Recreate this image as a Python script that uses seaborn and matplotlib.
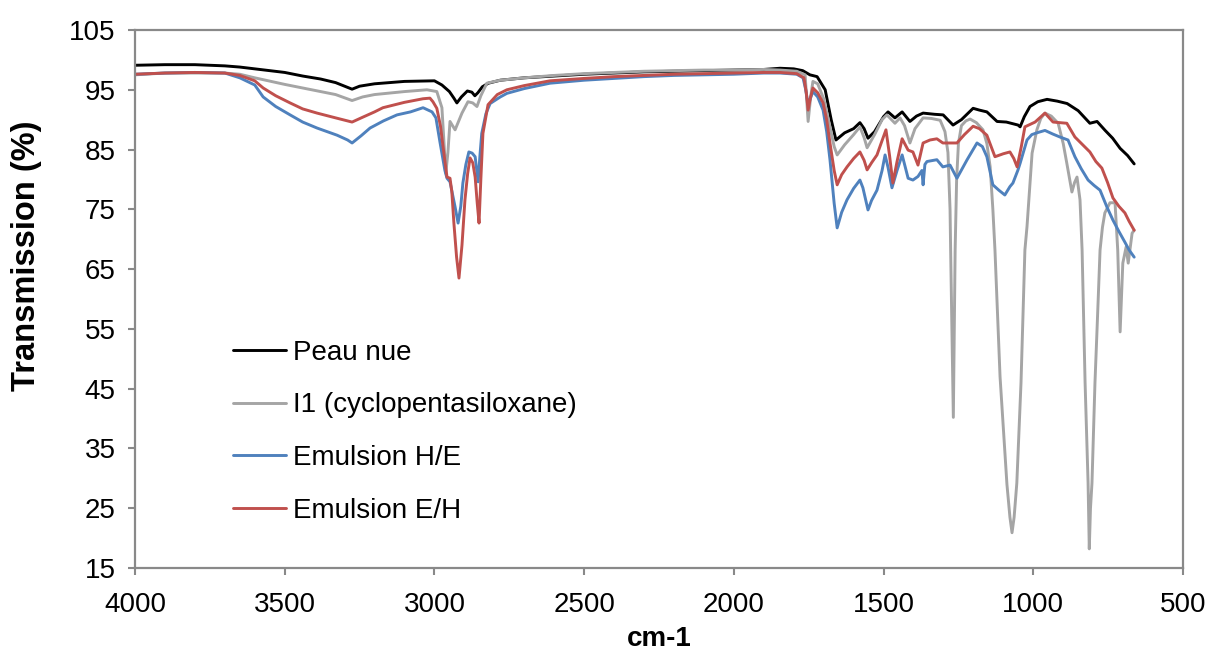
import pandas as pd
import matplotlib
matplotlib.use("Agg")
import matplotlib.pyplot as plt
import seaborn as sns

# spectra (cm-1, transmission %)
peau_x = [4000, 3900, 3800, 3700, 3650, 3600, 3500, 3440, 3380, 3330, 3275, 3250, 3200, 3100, 3000,
          2975, 2950, 2935, 2925, 2910, 2890, 2875, 2865, 2855, 2840, 2820, 2780, 2700, 2600, 2500,
          2400, 2300, 2200, 2100, 2000, 1900, 1846, 1800, 1770, 1746, 1722, 1695, 1675, 1659, 1630,
          1600, 1579, 1565, 1552, 1530, 1500, 1485, 1462, 1438, 1412, 1390, 1368, 1330, 1301, 1268,
          1240, 1201, 1180, 1155, 1121, 1090, 1051, 1044, 1030, 1011, 985, 954, 920, 887, 850, 811,
          787, 760, 735, 710, 685, 663]
peau_y = [99.1, 99.2, 99.2, 99.0, 98.8, 98.5, 97.9, 97.3, 96.8, 96.2, 95.1, 95.6, 96.0, 96.4, 96.5,
          95.8, 94.7, 93.6, 92.8, 93.8, 94.8, 94.6, 94.0, 94.5, 95.5, 96.1, 96.6, 97.0, 97.3, 97.6,
          97.8, 98.0, 98.1, 98.2, 98.3, 98.4, 98.6, 98.5, 98.2, 97.5, 97.2, 95.0, 90.0, 86.6, 87.8,
          88.5, 89.5, 88.5, 86.9, 88.0, 90.5, 91.3, 90.3, 91.3, 89.7, 90.6, 91.1, 90.9, 90.8, 89.1,
          90.0, 91.9, 91.6, 91.3, 89.7, 89.6, 89.1, 88.8, 90.5, 92.2, 93.0, 93.4, 93.1, 92.7, 91.5, 89.4,
          89.7, 88.2, 86.9, 85.2, 84.0, 82.6]

i1_x = [4000, 3900, 3800, 3700, 3650, 3600, 3500, 3400, 3330, 3275, 3240, 3200, 3100, 3025, 2992,
        2975, 2962, 2955, 2948, 2931, 2908, 2888, 2872, 2858, 2845, 2825, 2780, 2700, 2600, 2500,
        2400, 2300, 2200, 2100, 2000, 1900, 1846, 1790, 1762, 1752, 1743, 1736, 1720, 1700, 1680,
        1665, 1655, 1630, 1600, 1579, 1565, 1555, 1530, 1505, 1489, 1462, 1445, 1430, 1412, 1395,
        1368, 1340, 1311, 1295, 1285, 1278, 1276, 1267, 1261, 1256, 1250, 1240, 1225, 1211, 1190,
        1168, 1155, 1144, 1135, 1128, 1111, 1088, 1078, 1071, 1064, 1055, 1041, 1028, 1021, 1004,
        988, 975, 961, 940, 917, 900, 888, 871, 862, 854, 844, 837, 827, 817, 813, 809, 804, 794,
        787, 777, 769, 761, 744, 727, 718, 710, 701, 690, 683, 670, 663]
i1_y = [97.5, 97.8, 97.8, 97.8, 97.6, 97.0, 95.9, 94.9, 94.2, 93.2, 93.8, 94.2, 94.7, 95.0, 94.7,
        92.0, 81.0, 84.5, 89.7, 88.3, 91.1, 93.0, 92.8, 92.2, 94.0, 96.1, 96.6, 97.0, 97.4, 97.7,
        97.9, 98.1, 98.2, 98.3, 98.3, 98.4, 98.3, 98.1, 97.5, 89.7, 94.0, 96.4, 96.0, 93.5, 89.0,
        85.5, 84.1, 85.8, 87.5, 88.8, 87.0, 85.3, 87.5, 90.0, 90.8, 89.4, 90.3, 89.0, 86.1, 88.5,
        90.3, 90.2, 89.9, 88.0, 84.5, 75.0, 68.2, 40.2, 68.2, 80.0, 86.0, 89.0, 89.8, 90.1, 89.5,
        88.3, 86.0, 82.1, 75.0, 68.2, 47.0, 29.0, 23.5, 20.9, 23.5, 29.2, 46.0, 68.2, 72.1, 84.4,
        88.3, 90.2, 91.1, 90.6, 89.4, 86.0, 82.7, 77.9, 79.5, 80.4, 76.6, 68.2, 46.0, 29.2, 18.2, 25.0,
        29.2, 46.0, 55.0, 68.2, 72.0, 74.4, 76.1, 76.1, 68.2, 54.5, 66.0, 68.7, 66.0, 71.0, 71.5]

he_x = [4000, 3900, 3800, 3700, 3650, 3600, 3572, 3530, 3482, 3440, 3392, 3325, 3290, 3275, 3245,
        3215, 3170, 3125, 3080, 3038, 3008, 2995, 2981, 2965, 2958, 2948, 2931, 2921, 2912, 2905,
        2895, 2885, 2874, 2864, 2854, 2848, 2842, 2828, 2814, 2780, 2758, 2700, 2614, 2500, 2400,
        2300, 2200, 2100, 2000, 1900, 1846, 1790, 1769, 1760, 1752, 1745, 1736, 1720, 1702, 1690,
        1679, 1665, 1655, 1640, 1622, 1600, 1579, 1569, 1552, 1540, 1522, 1505, 1495, 1485, 1472,
        1455, 1438, 1418, 1402, 1385, 1372, 1368, 1362, 1355, 1322, 1302, 1278, 1255, 1221, 1188,
        1170, 1155, 1135, 1115, 1095, 1078, 1068, 1051, 1044, 1021, 1005, 988, 961, 935, 911, 884,
        861, 840, 817, 797, 777, 755, 734, 714, 694, 680, 663]
he_y = [97.6, 97.8, 97.9, 97.8, 97.0, 95.8, 93.8, 92.2, 90.8, 89.6, 88.6, 87.4, 86.6, 86.1, 87.3,
        88.6, 89.8, 90.8, 91.3, 92.0, 91.3, 90.3, 86.1, 81.5, 80.2, 79.6, 75.4, 72.7, 75.5, 79.4,
        82.5, 84.6, 84.4, 83.8, 79.6, 84.0, 87.7, 91.0, 92.7, 93.8, 94.4, 95.2, 96.1, 96.6, 96.9,
        97.2, 97.4, 97.5, 97.6, 97.8, 97.8, 97.6, 97.0, 95.0, 92.5, 93.5, 94.7, 93.8, 91.6, 88.0,
        83.3, 76.0, 71.9, 74.5, 76.6, 78.5, 79.9, 78.6, 74.9, 76.5, 78.2, 81.5, 84.1, 82.0, 78.6,
        81.5, 84.1, 80.2, 79.9, 80.5, 81.5, 79.1, 82.5, 83.0, 83.3, 82.1, 82.4, 80.2, 83.3, 86.1,
        85.5, 83.8, 79.1, 78.2, 77.4, 78.8, 79.4, 81.6, 82.7, 86.6, 87.5, 87.8, 88.2, 87.6, 87.1, 86.6,
        83.8, 81.8, 79.9, 79.0, 78.2, 75.5, 73.2, 71.3, 69.5, 68.2, 67.0]

eh_x = [4000, 3900, 3800, 3700, 3650, 3600, 3572, 3530, 3482, 3440, 3392, 3330, 3275, 3240, 3200,
        3172, 3100, 3038, 3015, 3005, 2992, 2980, 2971, 2958, 2948, 2942, 2935, 2926, 2918, 2908,
        2898, 2889, 2881, 2872, 2864, 2857, 2851, 2845, 2838, 2821, 2790, 2758, 2700, 2614, 2500,
        2400, 2300, 2200, 2100, 2000, 1900, 1846, 1790, 1766, 1758, 1752, 1745, 1736, 1720, 1702,
        1690, 1679, 1665, 1655, 1640, 1622, 1600, 1579, 1565, 1555, 1540, 1522, 1505, 1492, 1480,
        1469, 1455, 1438, 1418, 1402, 1385, 1368, 1345, 1322, 1302, 1255, 1230, 1201, 1180, 1155,
        1128, 1100, 1078, 1065, 1054, 1040, 1028, 994, 961, 934, 888, 861, 835, 811, 791, 771, 752,
        734, 714, 694, 680, 663]
eh_y = [97.6, 97.8, 97.9, 97.8, 97.4, 96.5, 95.3, 94.0, 92.8, 91.8, 91.1, 90.3, 89.6, 90.4, 91.3,
        92.0, 92.9, 93.5, 93.6, 93.0, 91.9, 89.0, 85.4, 80.4, 80.2, 78.0, 72.7, 67.0, 63.5, 69.0,
        76.6, 81.0, 83.6, 82.8, 80.4, 76.0, 72.7, 80.0, 87.7, 92.5, 94.2, 95.0, 95.7, 96.5, 96.9,
        97.2, 97.4, 97.6, 97.7, 97.8, 97.9, 97.9, 97.7, 97.0, 94.5, 91.6, 93.5, 95.3, 94.5, 92.8,
        90.0, 86.1, 81.5, 79.1, 80.8, 82.1, 83.5, 84.6, 83.2, 81.6, 82.8, 84.1, 86.5, 88.3, 84.0,
        79.4, 83.0, 86.8, 84.9, 84.6, 82.4, 86.1, 86.6, 86.8, 86.1, 86.1, 87.5, 88.9, 88.5, 87.4,
        83.8, 84.3, 84.6, 83.5, 82.1, 85.5, 88.8, 89.6, 91.1, 89.6, 89.4, 87.1, 85.8, 84.6, 83.0, 81.9, 79.5,
        76.9, 75.5, 74.4, 73.0, 71.5]

series = ["Peau nue", "I1 (cyclopentasiloxane)", "Emulsion H/E", "Emulsion E/H"]
colors = ["#000000", "#A5A5A5", "#4F81BD", "#C0504D"]

frames = []
for name, xs, ys in zip(series, [peau_x, i1_x, he_x, eh_x], [peau_y, i1_y, he_y, eh_y]):
    frames.append(pd.DataFrame({"cm": xs, "T": ys, "serie": name}))
df = pd.concat(frames, ignore_index=True)

sns.set_style("white")
plt.rcParams["font.family"] = ["Liberation Sans", "DejaVu Sans"]
plt.rcParams["text.color"] = "black"

fig = plt.figure(figsize=(12.07, 6.55), dpi=100)
ax = fig.add_axes([135 / 1207, 1 - 568 / 655, 1048 / 1207, 538 / 655])

sns.lineplot(data=df, x="cm", y="T", hue="serie", hue_order=series, palette=colors,
             estimator=None, sort=True, linewidth=2.1, ax=ax)

ax.set_xlim(4000, 500)
ax.set_ylim(15, 105)
ax.set_xticks(range(4000, 499, -500))
ax.set_yticks(range(15, 106, 10))
ax.tick_params(axis="both", labelsize=20, direction="out", length=5, width=1.5,
               color="#898989", labelcolor="black", left=True, bottom=True)
ax.tick_params(axis="x", pad=12.5)
ax.tick_params(axis="y", pad=9)
for s in ax.spines.values():
    s.set_color("#898989")
    s.set_linewidth(1.6)

ax.set_xlabel("cm-1", fontsize=20, fontweight="bold", color="black")
ax.set_ylabel("Transmission (%)", fontsize=23.5, fontweight="bold", color="black")
ax.xaxis.set_label_coords(0.5, -0.108)
ax.yaxis.set_label_coords(-0.0887, 0.581)

leg = ax.legend(loc="upper left", bbox_to_anchor=(0.083, 0.445), frameon=False, fontsize=20,
                handlelength=1.9, handletextpad=0.25, labelspacing=0.96, borderaxespad=0)
for t in leg.get_texts():
    t.set_color("black")

fig.savefig("out.png", dpi=100)
